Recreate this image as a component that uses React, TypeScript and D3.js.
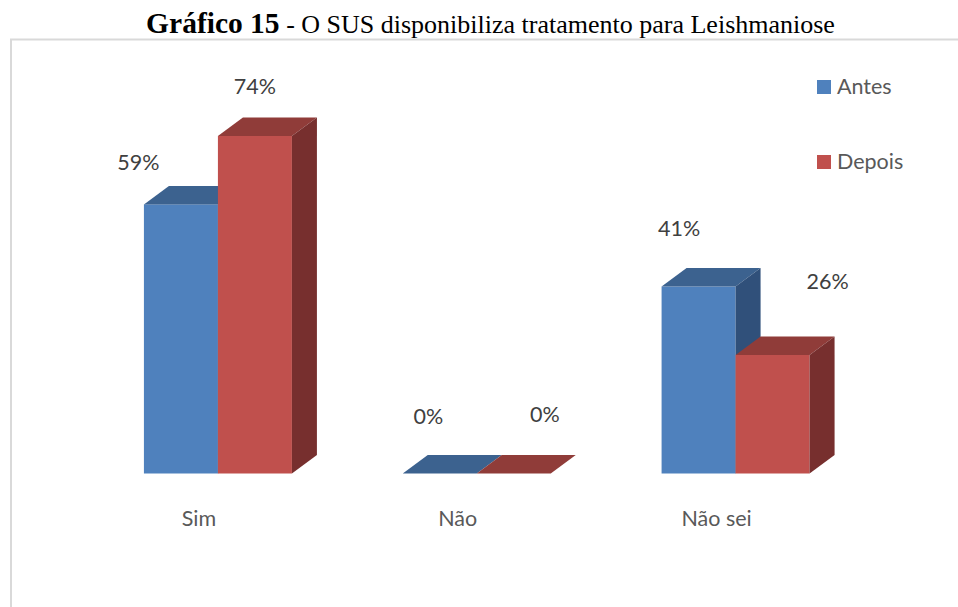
import { scaleBand, scaleLinear } from "d3";

const categories = ["Sim", "Não", "Não sei"];
const seriesNames = ["Antes", "Depois"];
const antes = [59, 0, 41];
const depois = [74, 0, 26];

const colors = [
  { front: "#4f81bd", top: "#3c628f", side: "#30507a" },
  { front: "#c0504d", top: "#903c39", side: "#772f2e" },
];

// the labels were dragged by hand in the original, so they sit off the bars: [dx, dy from top of bar]
const labelNudge = [
  [[-42.5, -34], [0, -42]],
  [[-11.5, -50], [31, -52]],
  [[-19.5, -51], [55, -66]],
];

const width = 958;
const height = 607;
const baseline = 473.5;
const depthX = 25;
const depthY = 18.5;
const labelFont = "Lato";
const labelSize = 21.5;

export default function App() {
  const x0 = scaleBand<string>().domain(categories).range([88.5, 865]);
  const x1 = scaleBand<string>()
    .domain(seriesNames)
    .range([0, 148]);
  const y = scaleLinear().domain([0, 74]).range([baseline, 136]);
  const values = [antes, depois];
  const groupPad = (x0.bandwidth() - 148) / 2;

  return (
    <svg
      width={width}
      height={height}
      style={{ position: "absolute", left: 0, top: 0, display: "block", background: "#fff" }}
    >
      <path d="M11 607V39.5H958" fill="none" stroke="#d9d9d9" strokeWidth={2} />
      <text
        x={490.5}
        y={33}
        textAnchor="middle"
        fontFamily="Liberation Serif"
        fontSize={26}
        fill="#000"
      >
        <tspan fontWeight="bold" fontSize={29.5}>Gráfico 15</tspan> - O SUS disponibiliza tratamento para Leishmaniose
      </text>

      {categories.map((cat, i) => {
        const gx = (x0(cat) as number) + groupPad;
        return (
          <g key={cat}>
            {seriesNames.map((s, j) => {
              const left = gx + (x1(s) as number);
              const right = left + x1.bandwidth();
              const top = y(values[j][i]);
              const c = colors[j];
              return (
                <g key={s}>
                  <rect x={left} y={top} width={right - left} height={baseline - top} fill={c.front} />
                  <path
                    d={`M${left} ${top}L${left + depthX} ${top - depthY}H${right + depthX}L${right} ${top}Z`}
                    fill={c.top}
                  />
                  <path
                    d={`M${right} ${top}L${right + depthX} ${top - depthY}V${baseline - depthY}L${right} ${baseline}Z`}
                    fill={c.side}
                  />
                </g>
              );
            })}
          </g>
        );
      })}

      {categories.map((cat, i) => {
        const gx = (x0(cat) as number) + groupPad;
        return seriesNames.map((s, j) => {
          const cx = gx + (x1(s) as number) + x1.bandwidth() / 2;
          const [dx, dy] = labelNudge[i][j];
          return (
            <text
              key={cat + s}
              x={cx + dx}
              y={y(values[j][i]) + dy}
              textAnchor="middle"
              fontFamily={labelFont}
              fontSize={labelSize}
              fill="#404040"
            >
              {values[j][i]}%
            </text>
          );
        });
      })}

      {categories.map((cat) => (
        <text
          key={cat}
          x={(x0(cat) as number) + x0.bandwidth() / 2 - 19}
          y={526}
          textAnchor="middle"
          fontFamily={labelFont}
          fontSize={labelSize}
          fill="#595959"
        >
          {cat}
        </text>
      ))}

      {seriesNames.map((s, j) => (
        <g key={s} transform={`translate(817,${80 + j * 75})`}>
          <rect width={14} height={14} fill={colors[j].front} />
          <text x={20} y={14} fontFamily={labelFont} fontSize={labelSize} fill="#595959">
            {s}
          </text>
        </g>
      ))}
    </svg>
  );
}
